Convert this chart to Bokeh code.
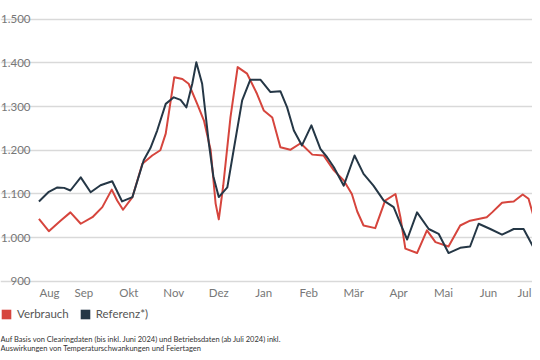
from bokeh.plotting import figure
from bokeh.models import Range1d, FixedTicker, Legend, LegendItem, ColumnDataSource, Label
from bokeh.embed import file_html
from bokeh.resources import INLINE

# month index: 0 = Aug 2023 ... 11 = Jul 2024
verbrauch_x = [0.00, 0.22, 0.48, 0.70, 0.93, 1.19, 1.41, 1.62, 1.74, 1.87, 2.08, 2.30, 2.52,
               2.70, 2.82, 3.01, 3.19, 3.33, 3.52, 3.67, 3.82, 3.93, 4.00, 4.10, 4.26, 4.42,
               4.63, 4.85, 5.00, 5.19, 5.37, 5.59, 5.82, 6.08, 6.33, 6.56, 6.78, 6.96, 7.08,
               7.22, 7.48, 7.70, 7.93, 8.04, 8.15, 8.41, 8.63, 8.82, 9.11, 9.37, 9.59, 9.96,
               10.08, 10.30, 10.56, 10.76, 10.89, 10.99]
verbrauch_y = [1043, 1015, 1039, 1058, 1032, 1047, 1070, 1110, 1085, 1064, 1093, 1169, 1188,
               1200, 1238, 1367, 1363, 1352, 1306, 1268, 1200, 1078, 1042, 1120, 1275, 1390,
               1375, 1329, 1291, 1275, 1207, 1201, 1216, 1190, 1188, 1154, 1131, 1100, 1060,
               1028, 1022, 1085, 1100, 1047, 975, 965, 1017, 990, 980, 1028, 1039, 1047,
               1058, 1080, 1083, 1099, 1089, 1053]

referenz_x = [0.00, 0.22, 0.41, 0.56, 0.70, 0.93, 1.15, 1.37, 1.63, 1.85, 2.08, 2.33, 2.48,
              2.63, 2.82, 3.00, 3.15, 3.28, 3.41, 3.50, 3.63, 3.78, 3.88, 4.00, 4.19, 4.33,
              4.52, 4.70, 4.93, 5.15, 5.37, 5.52, 5.67, 5.85, 6.06, 6.26, 6.41, 6.56, 6.78,
              7.02, 7.22, 7.44, 7.67, 7.89, 8.04, 8.19, 8.41, 8.67, 8.89, 9.11, 9.37, 9.59,
              9.78, 10.04, 10.30, 10.56, 10.78, 10.99]
referenz_y = [1083, 1105, 1115, 1114, 1108, 1138, 1104, 1120, 1129, 1083, 1093, 1177, 1205,
              1245, 1306, 1321, 1315, 1298, 1352, 1401, 1352, 1215, 1140, 1093, 1115, 1200,
              1314, 1361, 1361, 1333, 1335, 1298, 1245, 1211, 1257, 1203, 1184, 1161, 1119,
              1188, 1146, 1119, 1085, 1070, 1032, 996, 1058, 1020, 1009, 965, 977, 980,
              1032, 1020, 1007, 1020, 1020, 980]

month_ticks = [0.235, 1, 2, 3, 4, 5, 6, 7, 8, 9, 10, 10.80]
month_labels = ["Aug", "Sep", "Okt", "Nov", "Dez", "Jan", "Feb", "Mär", "Apr", "Mai", "Jun", "Jul"]
y_ticks = [900, 1000, 1100, 1200, 1300, 1400, 1500]
y_labels = ["900", "1.000", "1.100", "1.200", "1.300", "1.400", "1.500"]
series_names = ["Verbrauch", "Referenz*)"]
notes = ["Auf Basis von Clearingdaten (bis inkl. Juni 2024) und Betriebsdaten (ab Juli 2024) inkl.",
         "Auswirkungen von Temperaturschwankungen und Feiertagen"]

RED = "#d6453d"
DARK = "#253746"
FONT = "Lato"
X0, X1 = -0.01, 11.0          # extent of the plotted period

# frame spans the whole canvas; axes are pinned inside it
p = figure(width=532, height=352, output_backend="svg", toolbar_location=None,
           x_range=Range1d(-0.855, 10.978), y_range=Range1d(737.7, 1542.3),
           min_border=0)
p.outline_line_color = None
p.background_fill_color = "white"

p.line(verbrauch_x, verbrauch_y, line_color=RED, line_width=2, line_join="round")
p.line(referenz_x, referenz_y, line_color=DARK, line_width=2, line_join="round")

for ax in (p.xaxis[0], p.yaxis[0]):
    ax.axis_line_color = None
    ax.major_tick_line_color = None
    ax.minor_tick_line_color = None
    ax.major_tick_out = 0
    ax.major_tick_in = 0
    ax.minor_tick_out = 0
    ax.major_label_text_font = FONT
    ax.major_label_text_font_size = "11.5px"
    ax.major_label_text_color = "#777777"

p.xaxis.ticker = FixedTicker(ticks=month_ticks)
p.xaxis.major_label_overrides = {t: l for t, l in zip(month_ticks, month_labels)}
p.xaxis.major_label_standoff = 5
p.xaxis.fixed_location = 900
p.yaxis.ticker = FixedTicker(ticks=y_ticks)
p.yaxis.major_label_overrides = {t: l for t, l in zip(y_ticks, y_labels)}
p.yaxis.major_label_standoff = 8
p.yaxis.fixed_location = X0

p.xgrid.grid_line_color = None
p.ygrid.grid_line_color = "#d9d9d9"
p.ygrid.grid_line_width = 1.5
p.ygrid.bounds = (X0, X1)

# zero-size swatch renderers for the legend
sw = ColumnDataSource(dict(l=[0], r=[0], b=[900], t=[900]))
q1 = p.quad(left="l", right="r", bottom="b", top="t", source=sw, fill_color=RED, line_color=None)
q2 = p.quad(left="l", right="r", bottom="b", top="t", source=sw, fill_color=DARK, line_color=None)
legend = Legend(items=[LegendItem(label=series_names[0], renderers=[q1]),
                       LegendItem(label=series_names[1], renderers=[q2])],
                location=(0, 32), orientation="horizontal",
                glyph_width=12, glyph_height=12, label_standoff=5, spacing=10,
                padding=0, margin=0, border_line_color=None, background_fill_alpha=0,
                label_text_font=FONT, label_text_font_size="11.5px", label_text_color="#555555",
                label_height=12)
p.add_layout(legend, "center")

for t, yy in zip(notes, [13, 4]):
    p.add_layout(Label(x=0, y=yy, x_units="screen", y_units="screen", text=t,
                       text_font=FONT, text_font_size="7.5px", text_color="#333333",
                       text_baseline="middle", text_align="left"))

open("out.html", "w").write(file_html(p, INLINE))
